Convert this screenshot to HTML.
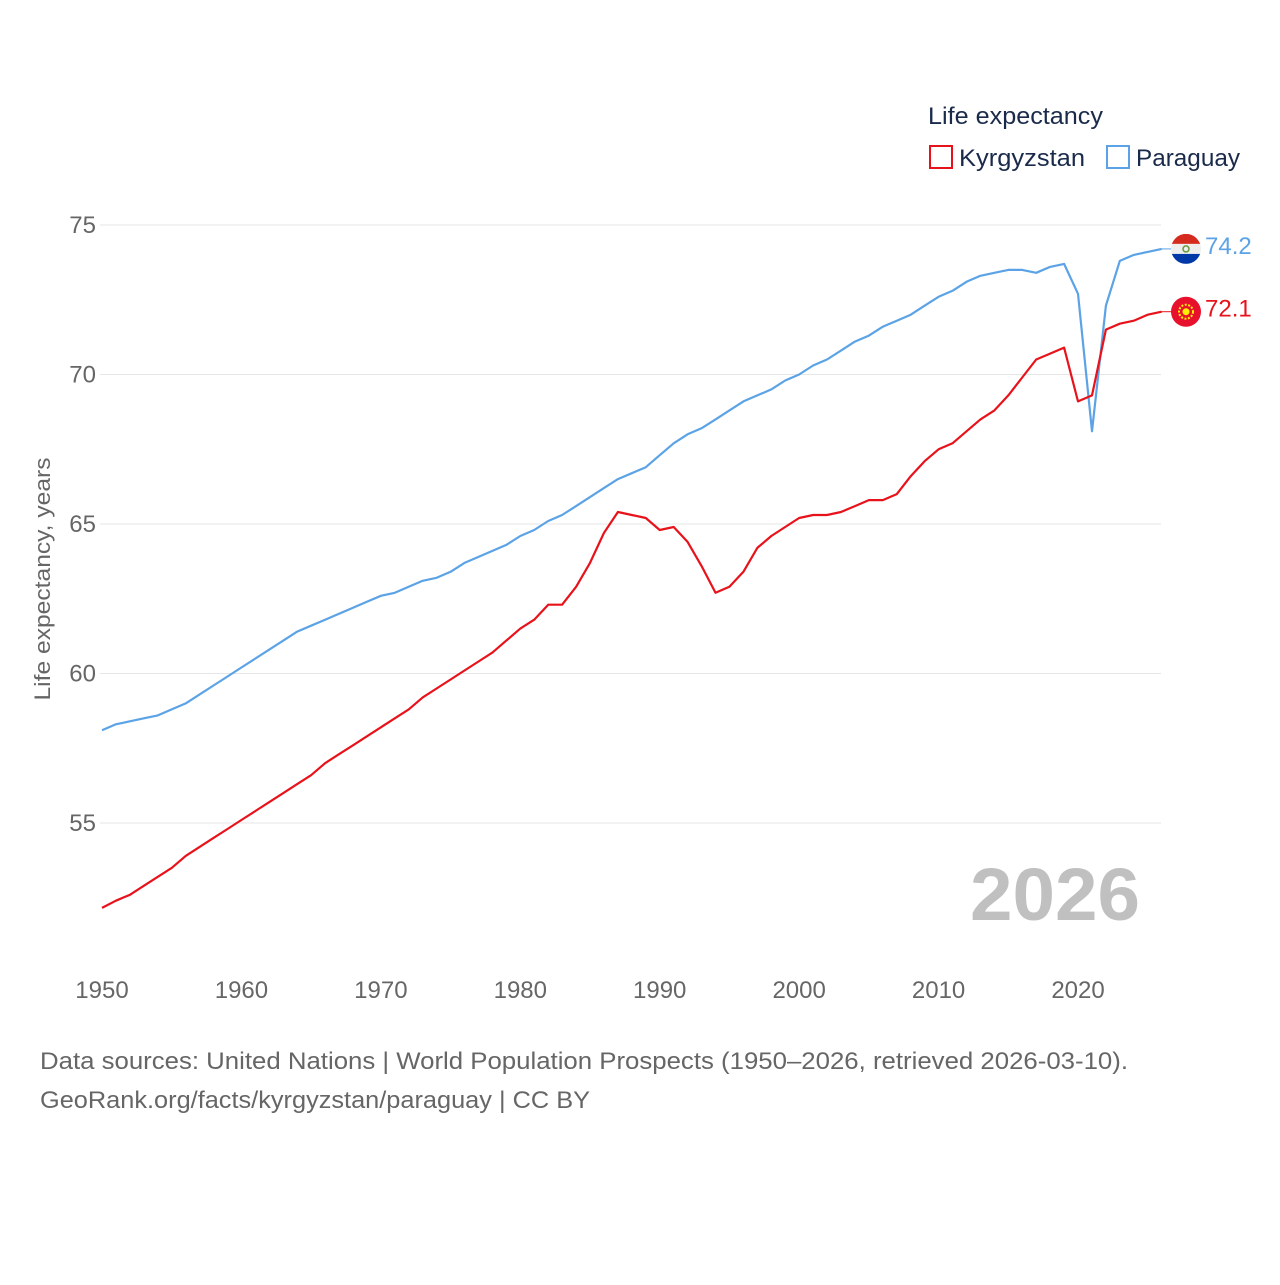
<!DOCTYPE html>
<html><head><meta charset="utf-8"><style>
body{margin:0;background:#fff;font-family:"Liberation Sans",sans-serif}
svg text{font-family:"Liberation Sans",sans-serif}
</style></head><body>
<svg id="chart" width="1280" height="1280" viewBox="0 0 1280 1280">
<g id="grid"></g>
<g id="yt"></g>
<g id="xt"></g>
<text transform="translate(50,579) rotate(-90)" text-anchor="middle" font-size="22" fill="#666" textLength="243" lengthAdjust="spacingAndGlyphs">Life expectancy, years</text>
<text x="1140" y="920" text-anchor="end" font-size="74" font-weight="bold" fill="#c0c0c0" textLength="170" lengthAdjust="spacingAndGlyphs">2026</text>
<g id="series"></g>
<text x="928" y="124" font-size="24" fill="#1a2a4a" textLength="175" lengthAdjust="spacingAndGlyphs">Life expectancy</text>
<g>
<rect x="930" y="146" width="22" height="22" fill="none" stroke="#e8121b" stroke-width="2"/>
<text x="959" y="166" font-size="24" fill="#1a2a4a" textLength="126" lengthAdjust="spacingAndGlyphs">Kyrgyzstan</text></g>
<g>
<rect x="1107" y="146" width="22" height="22" fill="none" stroke="#5ba3e6" stroke-width="2"/>
<text x="1136" y="166" font-size="24" fill="#1a2a4a" textLength="104" lengthAdjust="spacingAndGlyphs">Paraguay</text></g>
<text x="40" y="1069" font-size="24" fill="#666" textLength="1088" lengthAdjust="spacingAndGlyphs">Data sources: United Nations | World Population Prospects (1950–2026, retrieved 2026-03-10).</text>
<text x="40" y="1108" font-size="24" fill="#666" textLength="550" lengthAdjust="spacingAndGlyphs">GeoRank.org/facts/kyrgyzstan/paraguay | CC BY</text>
</svg>
<script>
const years=[];for(let y=1950;y<=2026;y++)years.push(y);
const paraguay=[58.1,58.3,58.4,58.5,58.6,58.8,59.0,59.3,59.6,59.9,60.2,60.5,60.8,61.1,61.4,61.6,61.8,62.0,62.2,62.4,62.6,62.7,62.9,63.1,63.2,63.4,63.7,63.9,64.1,64.3,64.6,64.8,65.1,65.3,65.6,65.9,66.2,66.5,66.7,66.9,67.3,67.7,68.0,68.2,68.5,68.8,69.1,69.3,69.5,69.8,70.0,70.3,70.5,70.8,71.1,71.3,71.6,71.8,72.0,72.3,72.6,72.8,73.1,73.3,73.4,73.5,73.5,73.4,73.6,73.7,72.7,68.1,72.3,73.8,74.0,74.1,74.2];
const kyrgyzstan=[52.16,52.4,52.6,52.9,53.2,53.5,53.9,54.2,54.5,54.8,55.1,55.4,55.7,56.0,56.3,56.6,57.0,57.3,57.6,57.9,58.2,58.5,58.8,59.2,59.5,59.8,60.1,60.4,60.7,61.1,61.5,61.8,62.3,62.3,62.9,63.7,64.7,65.4,65.3,65.2,64.8,64.9,64.4,63.6,62.7,62.9,63.4,64.2,64.6,64.9,65.2,65.3,65.3,65.4,65.6,65.8,65.8,66.0,66.6,67.1,67.5,67.7,68.1,68.5,68.8,69.3,69.9,70.5,70.7,70.9,69.1,69.3,71.5,71.7,71.8,72.0,72.1];
const yTicks=[55,60,65,70,75];
const xTicks=[1950,1960,1970,1980,1990,2000,2010,2020];
const NS="http://www.w3.org/2000/svg";
const X=y=>102+(y-1950)*13.943;
const Y=v=>225+(75-v)*29.9;
function mk(t,a,p){const e=document.createElementNS(NS,t);for(const k in a)e.setAttribute(k,a[k]);p.appendChild(e);return e;}
const grid=document.getElementById('grid'),yt=document.getElementById('yt'),xt=document.getElementById('xt'),ser=document.getElementById('series');
yTicks.forEach(v=>{
 const l=mk('line',{x1:100,x2:1161,y1:Y(v),y2:Y(v),stroke:'#e6e6e6','stroke-width':1},grid);
 
 
 const t=mk('text',{x:96,y:Y(v)+8,'text-anchor':'end','font-size':24,fill:'#666'},yt);t.textContent=v;
 
 
});
xTicks.forEach(v=>{
 const t=mk('text',{x:X(v),y:998,'text-anchor':'middle','font-size':24,fill:'#666'},xt);t.textContent=v;
 
 
});
function line(vals,color,name){
 const d=vals.map((v,i)=>(i?'L':'M')+X(years[i]).toFixed(1)+','+Y(v).toFixed(1)).join('');
 const p=mk('path',{d:d,fill:'none',stroke:color,'stroke-width':2.2,'stroke-linejoin':'round'},ser);
 
 
 const last=vals[vals.length-1],ly=Y(last);
 mk('line',{x1:X(2026),x2:1175,y1:ly,y2:ly,stroke:color,'stroke-width':1},ser);
 const t=mk('text',{x:1205,y:ly+5,'font-size':24,fill:color},ser);t.textContent=last.toFixed(1);
 
 
 return ly;
}
const py=line(paraguay,'#5ba3e6','paraguay');
const ky=line(kyrgyzstan,'#e8121b','kyrgyzstan');
const fp=mk('g',{},ser);


const cp=mk('clipPath',{id:'cp'},fp);
mk('circle',{cx:1186,cy:py,r:15},cp);
const fg=mk('g',{'clip-path':'url(#cp)'},fp);
mk('rect',{x:1171,y:py-15,width:30,height:10,fill:'#d52b1e'},fg);
mk('rect',{x:1171,y:py-5,width:30,height:10,fill:'#eee'},fg);
mk('rect',{x:1171,y:py+5,width:30,height:10,fill:'#0038a8'},fg);
mk('circle',{cx:1186,cy:py,r:3,fill:'none',stroke:'#6a9a3a','stroke-width':1.5},fg);
const fk=mk('g',{},ser);


mk('circle',{cx:1186,cy:ky,r:15,fill:'#e8112d'},fk);
mk('circle',{cx:1186,cy:ky,r:7,fill:'none',stroke:'#ffef00','stroke-width':2,'stroke-dasharray':'2 1.5'},fk);
mk('circle',{cx:1186,cy:ky,r:3.5,fill:'#ffef00'},fk);
</script>
</body></html>
